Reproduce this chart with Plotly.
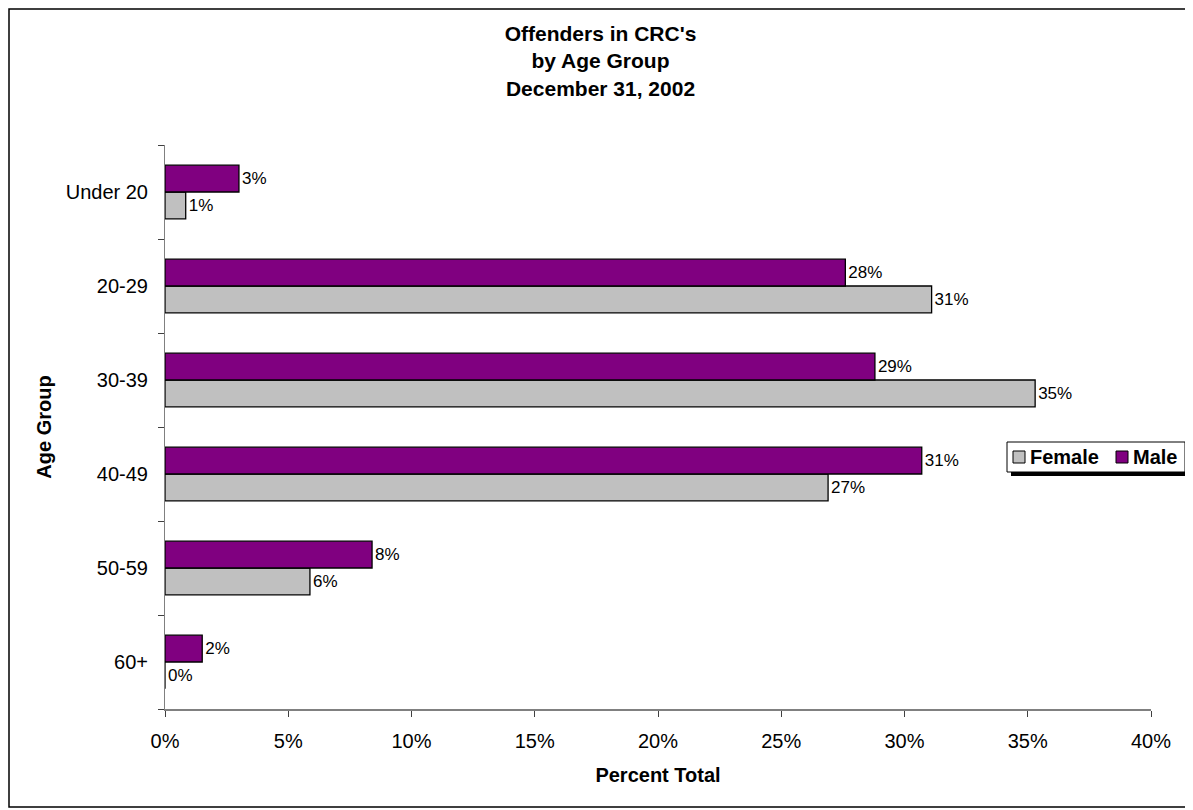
import plotly.graph_objects as go

# data (percent of total)
age_groups = ["Under 20", "20-29", "30-39", "40-49", "50-59", "60+"]
female = [0.84, 31.1, 35.3, 26.9, 5.88, 0.0]
male = [3.0, 27.6, 28.8, 30.7, 8.4, 1.51]
x_ticks = [0, 5, 10, 15, 20, 25, 30, 35, 40]

# the page has an 8px body margin, so the figure is made smaller to fit the window
OFF = 8
W, H = 1193 - OFF, 810 - OFF
# plot area in window pixels: x 165..1151, y 145..709
L, R, T, B = 165 - OFF, 1193 - 1151, 145 - OFF, 810 - 709
FONT = "Arial, Liberation Sans, sans-serif"
GRAY = "#C0C0C0"
PURPLE = "#800080"


def px(x):
    # window pixel -> paper x
    return (x - OFF - L) / (W - L - R)


def py(y):
    # window pixel -> paper y
    return (H - B - (y - OFF)) / (H - T - B)


fig = go.Figure()
for name, vals, col in [("Female", female, GRAY), ("Male", male, PURPLE)]:
    fig.add_trace(
        go.Bar(
            y=age_groups,
            x=vals,
            name=name,
            orientation="h",
            marker=dict(color=col, line=dict(color="black", width=1.3)),
            texttemplate="%{x:.0f}%",
            textposition="outside",
            textfont=dict(family=FONT, size=17, color="black"),
            cliponaxis=False,
            showlegend=False,
        )
    )

fig.update_layout(
    width=W,
    height=H,
    margin=dict(l=L, r=R, t=T, b=B),
    paper_bgcolor="white",
    plot_bgcolor="white",
    barmode="group",
    bargap=0.43,
    bargroupgap=0,
    font=dict(family=FONT, size=20, color="black"),
    title=dict(
        text="<b>Offenders in CRC's<br>by Age Group<br>December 31, 2002</b>",
        x=0.5,
        xref="container",
        xanchor="center",
        y=1 - 33 / H,
        yref="container",
        yanchor="top",
        font=dict(family=FONT, size=21, color="black"),
    ),
)

fig.update_xaxes(
    range=[0, 40],
    tickvals=x_ticks,
    ticktext=[f"{v}%" for v in x_ticks],
    showgrid=False,
    zeroline=False,
    showline=True,
    linecolor="#808080",
    linewidth=2,
    ticks="outside",
    ticklen=6,
    tickcolor="#404040",
    ticklabelstandoff=7,
    tickfont=dict(size=20),
    title=dict(text="<b>Percent Total</b>", font=dict(size=20), standoff=17),
)
fig.update_yaxes(
    categoryorder="array",
    categoryarray=age_groups[::-1],
    showgrid=False,
    showline=True,
    linecolor="#808080",
    linewidth=1,
    ticks="outside",
    tickson="boundaries",
    ticklen=6,
    tickcolor="#404040",
    ticklabelstandoff=12,
    tickfont=dict(size=20),
    title=dict(text="<b>Age Group</b>", font=dict(size=20), standoff=8),
)

# outer chart border
fig.add_shape(
    type="rect", xref="paper", yref="paper",
    x0=px(OFF + 1), x1=px(1190), y0=py(807), y1=py(OFF + 1),
    line=dict(color="black", width=1.5), fillcolor="rgba(0,0,0,0)", layer="below",
)

# legend box with shadow (drawn by hand to keep Excel's tight layout)
lx0, lx1, ly0, ly1 = 1007, 1185, 442, 472
fig.add_shape(type="rect", xref="paper", yref="paper",
              x0=px(lx0 + 4), x1=px(lx1 + 4), y0=py(ly1 + 4), y1=py(ly0 + 4),
              line=dict(width=0), fillcolor="black")
fig.add_shape(type="rect", xref="paper", yref="paper",
              x0=px(lx0), x1=px(lx1), y0=py(ly1), y1=py(ly0),
              line=dict(color="black", width=1), fillcolor="white")
for name, col, sx in [("Female", GRAY, 1013), ("Male", PURPLE, 1116)]:
    fig.add_shape(type="rect", xref="paper", yref="paper",
                  x0=px(sx), x1=px(sx + 12), y0=py(463), y1=py(451),
                  line=dict(color="black", width=1), fillcolor=col)
    fig.add_annotation(xref="paper", yref="paper", x=px(sx + 15), y=py(457),
                       xanchor="left", yanchor="middle", showarrow=False,
                       text=f"<b>{name}</b>", font=dict(family=FONT, size=20, color="black"))

fig.write_html("out.html")
